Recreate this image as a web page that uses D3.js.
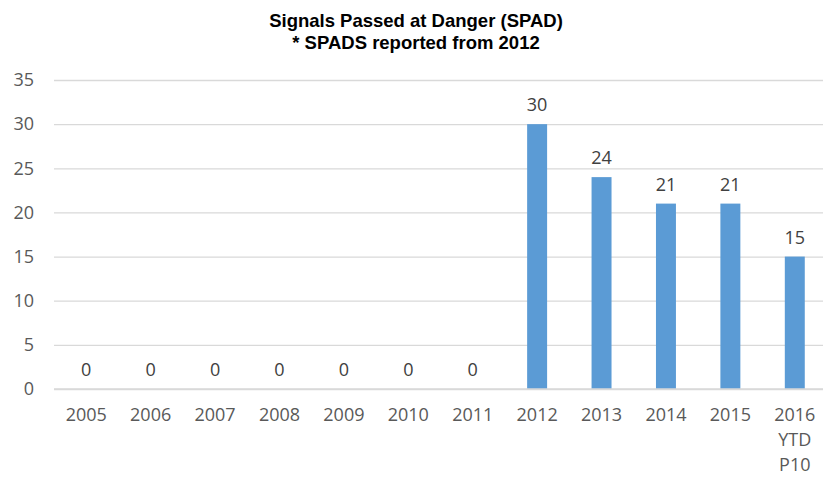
<!DOCTYPE html>
<html>
<head>
<meta charset="utf-8">
<script src="https://cdn.jsdelivr.net/npm/d3@7"></script>
<style>
  body { margin: 0; background: #fff; }
  .board text { font-family: "Open Sans", "Liberation Sans", sans-serif; }
</style>
</head>
<body>
<div class="board"></div>
<script>
var years = ["2005", "2006", "2007", "2008", "2009", "2010", "2011", "2012", "2013", "2014", "2015", "2016 YTD P10"];
var spads = [0, 0, 0, 0, 0, 0, 0, 30, 24, 21, 21, 15];
var yTicks = [0, 5, 10, 15, 20, 25, 30, 35];
var titleLines = ["Signals Passed at Danger (SPAD)", "* SPADS reported from 2012"];

var chart = function () {

  var opts = {
    width: 823,
    height: 478,
    left: 54,
    right: 827,
    top: 80,
    bottom: 389
  };

  var svg = d3.select(".board").append("svg")
    .attr("width", opts.width)
    .attr("height", opts.height);

  var data = years.map(function (y, i) { return { year: y, value: spads[i] }; });

  var x = d3.scaleBand()
    .domain(years)
    .range([opts.left, opts.right])
    .paddingInner(0.69)
    .paddingOuter(0.345);

  var y = d3.scaleLinear()
    .domain([0, 35])
    .range([opts.bottom, opts.top]);

  // title
  svg.selectAll("text.title").data(titleLines).enter().append("text")
    .attr("class", "title")
    .attr("x", 416)
    .attr("y", function (d, i) { return 27 + i * 22; })
    .attr("text-anchor", "middle")
    .style("font-family", "'Liberation Sans', Arial, sans-serif")
    .style("font-weight", "bold")
    .style("font-size", "18.5px")
    .attr("fill", "#000")
    .text(function (d) { return d; });

  // gridlines + y labels
  var yAxis = d3.axisLeft(y)
    .tickValues(yTicks)
    .tickSize(-(opts.right - opts.left))
    .tickPadding(20);

  var gy = svg.append("g")
    .attr("transform", "translate(" + opts.left + ",0)")
    .call(yAxis);
  gy.select(".domain").remove();
  gy.selectAll(".tick line").attr("stroke", "#d9d9d9").attr("stroke-width", 1.3);
  gy.selectAll(".tick text")
    .attr("fill", "#595959")
    .style("font-size", "18px");

  // bars
  svg.selectAll("rect.bar").data(data).enter().append("rect")
    .attr("class", "bar")
    .attr("x", function (d) { return x(d.year); })
    .attr("width", x.bandwidth())
    .attr("y", function (d) { return y(d.value); })
    .attr("height", function (d) { return y(0) - y(d.value); })
    .attr("fill", "#5b9bd5");

  // value labels
  svg.selectAll("text.val").data(data).enter().append("text")
    .attr("class", "val")
    .attr("x", function (d) { return x(d.year) + x.bandwidth() / 2; })
    .attr("y", function (d) { return y(d.value) - 13; })
    .attr("text-anchor", "middle")
    .attr("fill", "#404040")
    .style("font-size", "18px")
    .text(function (d) { return d.value; });

  // x labels (wrapped)
  var xAxis = d3.axisBottom(x).tickSize(0).tickPadding(0);
  var gx = svg.append("g")
    .attr("transform", "translate(0," + opts.bottom + ")")
    .call(xAxis);
  gx.select(".domain").remove();
  gx.selectAll(".tick text").each(function (d) {
    var t = d3.select(this).text("").attr("y", 32).attr("dy", null)
      .attr("fill", "#595959").style("font-size", "18px");
    d.split(" ").forEach(function (w, i) {
      t.append("tspan").attr("x", 0).attr("y", 32 + i * 25).text(w);
    });
  });

  // baseline
  svg.append("line")
    .attr("x1", opts.left).attr("x2", opts.right)
    .attr("y1", y(0)).attr("y2", y(0))
    .attr("stroke", "#d9d9d9").attr("stroke-width", 1.5);
};

chart();
</script>
</body>
</html>
